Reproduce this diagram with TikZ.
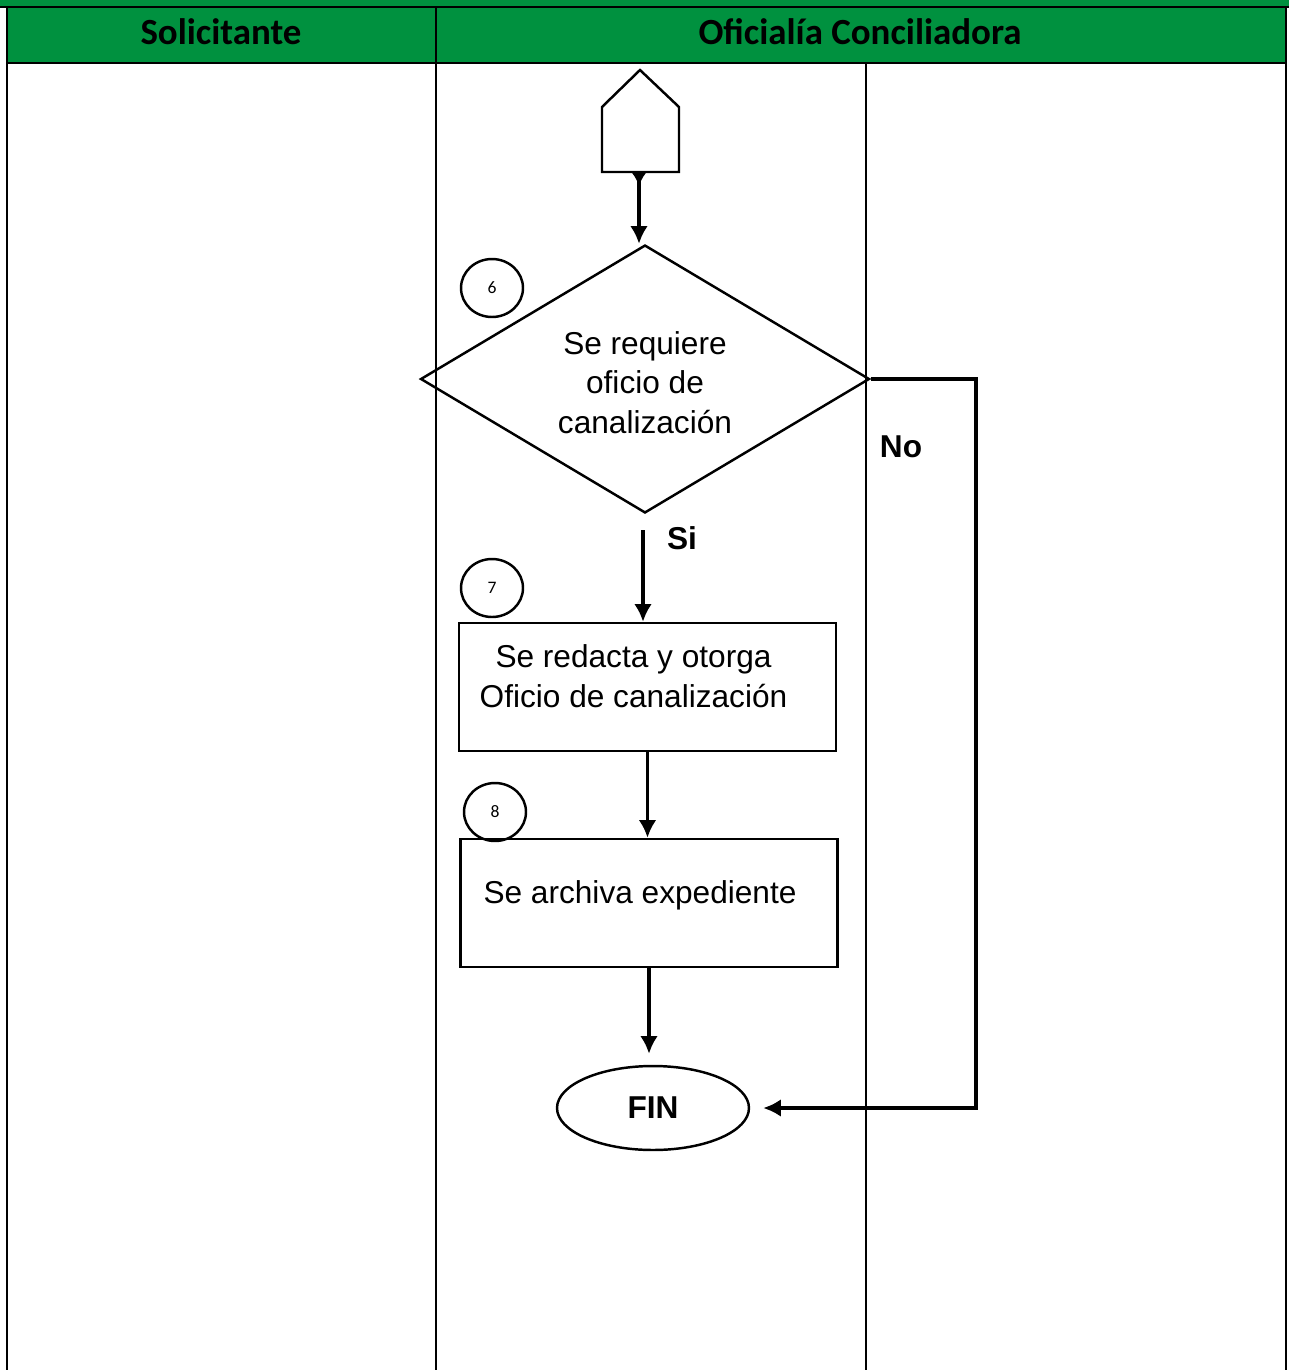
\documentclass[tikz,border=0pt]{standalone}
\usepackage{fontspec}
\setmainfont{Liberation Sans}
\newfontfamily\headfont{Carlito}
\usetikzlibrary{shapes.geometric,arrows.meta}
\definecolor{verdeenc}{RGB}{0,145,63}
\begin{document}
\begin{tikzpicture}[x=0.02cm,y=-0.02cm,
	flecha/.style={line width=2.2pt,-{Latex[length=10pt,width=10pt]}},
	caja/.style={draw,line width=1.4pt,minimum width=7.54cm,minimum height=2.56cm},
	texto/.style={align=center,font=\fontsize{18}{22.5}\selectfont},
	paso/.style={draw,ellipse,line width=1.4pt,minimum width=1.24cm,minimum height=1.16cm,inner sep=0pt,font=\headfont\fontsize{10}{11}\selectfont},
	etiqueta/.style={font=\bfseries\fontsize{18}{22}\selectfont},
	columna/.style={font=\headfont\bfseries\fontsize{21}{25}\selectfont}]
	\useasboundingbox (0,0) rectangle (1289,1370);
	% encabezado verde
	\fill[verdeenc] (0,0) rectangle (1289,7);
	\fill[verdeenc] (7,7) rectangle (1286,63);
	\draw[line width=1.6pt] (0,7) -- (1289,7);
	\draw[line width=1.6pt] (7,63) -- (1286,63);
	\foreach \x in {7,436,1286}
	{
		\draw[line width=1.4pt] (\x,7) -- (\x,1370);
	}
	\draw[line width=1.4pt] (866,63) -- (866,1370);
	\node[columna] (sol) at (221,32) {Solicitante};
	\node[columna] (ofi) at (860,32) {Oficialía Conciliadora};

	% conector de pagina
	\draw[line width=1.4pt] (602,172) -- (602,107) -- (640,70) -- (679,107) -- (679,172) -- cycle;
	\coordinate (con) at (639,172);

	% decision
	\node[draw,diamond,aspect=1.675,inner sep=0pt,line width=1.4pt,minimum width=8.98cm,minimum height=5.36cm,texto] (q) at (645,379) {\rule{0pt}{0.6cm}Se requiere\\oficio de\\canalización};
	\node[paso] (n6) at (492,288) {6};
	\draw[line width=2.2pt,{Latex[reversed,length=8pt,width=9pt]}-{Latex[length=10pt,width=10pt]}] (con) -- (con |- q.north);

	% rama si
	\coordinate (si) at (643,530);
	\node[etiqueta] (lsi) at (682,538) {Si};
	\node[caja,label={[texto,xshift=-0.28cm,yshift=0.22cm]center:Se redacta y otorga\\Oficio de canalización}] (b1) at (647.5,687) {};
	\node[paso] (n7) at (492,588) {7};
	\draw[flecha] (si) -- (si |- b1.north);

	\node[caja,label={[texto,xshift=-0.18cm,yshift=0.16cm]center:Se archiva expediente}] (b2) at (649,903) {};
	\node[paso] (n8) at (495,812) {8};
	\draw[flecha] (b1.south) -- (b1.south |- b2.north);

	% fin
	\node[draw,ellipse,line width=1.4pt,minimum width=3.84cm,minimum height=1.68cm,etiqueta] (fin) at (653,1108) {FIN};
	\draw[flecha,shorten >=0.22cm] (b2.south) -- (b2.south |- fin.north);

	% rama no
	\coordinate (no1) at (976,379);
	\coordinate (no2) at (976,1108);
	\node[etiqueta] (lno) at (901,447) {No};
	\draw[flecha] (q.east) -- (no1) -- (no2) -- ([xshift=0.26cm]fin.east);
\end{tikzpicture}
\end{document}
